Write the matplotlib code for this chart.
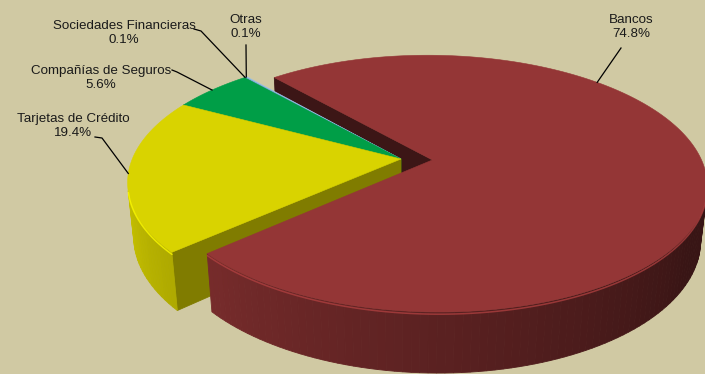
import numpy as np
import matplotlib.pyplot as plt
from matplotlib.patches import Polygon
from matplotlib.colors import to_rgb

# data (world angles counterclockwise, slices laid out from START_ANGLE)
labels = ['Bancos', 'Otras', 'Sociedades Financieras', 'Compañías de Seguros', 'Tarjetas de Crédito']
shares = [74.8, 0.1, 0.1, 5.6, 19.4]
colors = ['#943636', '#9CC3E5', '#7FB0DA', '#009E47', '#D9D300']
explode = [0.117, 0, 0, 0, 0]
START_ANGLE = 221.5

# label text centres (pixels) and elbow points of the leader lines
label_pos = [(631, 27), (246, 27), (124, 33), (101, 78), (73, 126)]
elbows = [[(621, 48)], [(246, 45)], [(194, 29), (201, 31)],
          [(172, 70), (177, 72)], [(95, 137), (102, 138)]]
anchor_angle = [45, None, None, None, None]

BG = '#D0C9A3'

# simple perspective camera
PHI = np.radians(27.4)
DIST = 4.83
SCALE = 1298
CX, CY = 401, 159
H = 0.228
cphi, sphi = np.cos(PHI), np.sin(PHI)
CAM = np.array([0, -DIST * cphi, DIST * sphi])


def project(p):
    x, y, z = p
    ry = y + DIST * cphi
    rz = z - DIST * sphi
    depth = ry * cphi - rz * sphi
    up = ry * sphi + rz * cphi
    return CX + SCALE * x / depth, CY - SCALE * up / depth, depth


def shade(col, f):
    r, g, b = to_rgb(col)
    return (min(r * f, 1), min(g * f, 1), min(b * f, 1))


def side_factor(deg):
    deg = deg % 360
    return float(np.clip(0.80 - 0.0039 * (deg - 222), 0.38, 0.93))


def radial_factor(ndeg):
    return 0.40 + 0.19 * max(0.0, np.cos(np.radians(ndeg - 310)))


fig = plt.figure(figsize=(7.05, 3.74), dpi=100)
fig.patch.set_facecolor(BG)
ax = fig.add_axes([0, 0, 1, 1])
ax.set_facecolor(BG)
ax.set_xlim(0, 705)
ax.set_ylim(374, 0)
ax.axis('off')

faces = []   # (depth, points, colour)
tops = []
rims = []
spans = [360 * v / 100 for v in shares]
a0 = START_ANGLE
slices = []
for lab, sp, col, ex in zip(labels, spans, colors, explode):
    a1 = a0 + sp
    mid = np.radians((a0 + a1) / 2)
    o = np.array([ex * np.cos(mid), ex * np.sin(mid), 0.0])
    slices.append((a0, a1, o))

    # outer side strips
    n = max(2, int(sp / 1.5))
    ts = np.linspace(a0, a1, n + 1)
    for t1, t2 in zip(ts[:-1], ts[1:]):
        tm = np.radians((t1 + t2) / 2)
        nrm = np.array([np.cos(tm), np.sin(tm), 0])
        pm = o + np.array([np.cos(tm), np.sin(tm), -H / 2])
        if nrm @ (CAM - pm) <= 0:
            continue
        pts = []
        for t, z in [(t1, 0), (t2, 0), (t2, -H), (t1, -H)]:
            r = np.radians(t)
            pts.append(project(o + np.array([np.cos(r), np.sin(r), z])))
        d = np.mean([p[2] for p in pts])
        faces.append((d, [(p[0], p[1]) for p in pts], shade(col, side_factor((t1 + t2) / 2))))

    # radial cut faces
    for ang, nang in [(a0, a0 - 90), (a1, a1 + 90)]:
        r = np.radians(ang)
        nr = np.radians(nang)
        nrm = np.array([np.cos(nr), np.sin(nr), 0])
        tip = o + np.array([np.cos(r), np.sin(r), 0])
        pm = (o + tip) / 2 + np.array([0, 0, -H / 2])
        if nrm @ (CAM - pm) <= 0:
            continue
        pts = [project(o), project(tip), project(tip + [0, 0, -H]), project(o + [0, 0, -H])]
        d = np.mean([p[2] for p in pts])
        faces.append((d, [(p[0], p[1]) for p in pts], shade(col, radial_factor(nang))))

    # top face
    ts = np.linspace(a0, a1, max(3, int(sp)) + 1)
    pts = [project(o)[:2]] + [project(o + [np.cos(np.radians(t)), np.sin(np.radians(t)), 0])[:2] for t in ts]
    tops.append((pts, col))

    # bright bevel along visible front rim
    vis = [t for t in ts if np.sin(np.radians(t)) < -0.233]
    if len(vis) > 1:
        rim = [project(o + [np.cos(np.radians(t)), np.sin(np.radians(t)), -0.008])[:2] for t in vis]
        rims.append((rim, shade(col, 1.2)))
    a0 = a1

faces.sort(key=lambda f: -f[0])
for d, pts, c in faces:
    ax.add_patch(Polygon(pts, closed=True, facecolor=c, edgecolor=c, lw=0.6))
for pts, c in tops:
    ax.add_patch(Polygon(pts, closed=True, facecolor=c, edgecolor=c, lw=0.4))
for rim, c in rims:
    xs, ys = zip(*rim)
    ax.plot(xs, ys, color=c, lw=1.1, alpha=0.75, solid_capstyle='round')

# labels with leader lines
font = ['Liberation Sans', 'DejaVu Sans']
for i, (lab, v) in enumerate(zip(labels, shares)):
    a0, a1, o = slices[i]
    ang = anchor_angle[i] if anchor_angle[i] is not None else (a0 + a1) / 2
    r = np.radians(ang)
    ax_, ay_, _ = project(o + [np.cos(r), np.sin(r), 0])
    pts = elbows[i] + [(ax_, ay_)]
    xs, ys = zip(*pts)
    ax.plot(xs, ys, color='black', lw=0.9)
    tx, ty = label_pos[i]
    ax.text(tx, ty, f'{lab}\n{v:.1f}%', ha='center', va='center', fontsize=9.6,
            family=font, color='#1a1a1a', linespacing=1.3)

fig.savefig('out.png', dpi=100, facecolor=BG)
